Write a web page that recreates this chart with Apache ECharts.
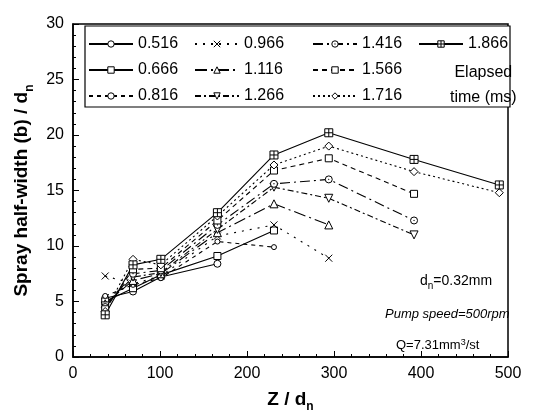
<!DOCTYPE html>
<html><head><meta charset="utf-8">
<script src="https://cdn.jsdelivr.net/npm/echarts@6/dist/echarts.min.js"></script>
<style>html,body{margin:0;padding:0;background:#fff}#c{width:542px;height:418px}</style>
</head><body><div id="c"></div>
<script>
// Z/dn positions of measurement stations
const zPos = [37, 69, 101, 166, 231, 294, 392, 490];
// Spray half-width (b)/dn for each elapsed time (ms)
const t0516 = [5.3, 5.9, 7.2, 8.4];
const t0666 = [5.0, 6.2, 7.4, 9.1, 11.4];
const t0816 = [5.5, 6.5, 7.1, 10.4, 9.9];
const t0966 = [7.3, 6.6, 7.3, 10.9, 11.9, 8.9];
const t1116 = [4.8, 6.9, 7.5, 11.2, 13.8, 11.9];
const t1266 = [4.6, 7.2, 7.6, 11.5, 15.3, 14.3, 11.0];
const t1416 = [4.5, 7.5, 7.8, 11.9, 15.6, 16.0, 12.3];
const t1566 = [4.3, 7.9, 8.0, 12.3, 16.8, 17.9, 14.7];
const t1716 = [4.1, 8.8, 8.3, 12.7, 17.3, 19.0, 16.7, 14.8];
const t1866 = [3.8, 8.3, 8.8, 13.0, 18.2, 20.2, 17.8, 15.5];
const xTicks = [0, 100, 200, 300, 400, 500];
const yTicks = [0, 5, 10, 15, 20, 25, 30];

const FONT = 'Liberation Sans, Arial, sans-serif';
const sqPlus = 'path://M0,0H10V10H0Z M5,0V10 M0,5H10';
const xMark = 'path://M0,0L10,10M10,0L0,10';
const circDot = 'path://M0,5A5,5,0,1,1,10,5A5,5,0,1,1,0,5Z M4.6,5A0.4,0.4,0,1,1,5.4,5A0.4,0.4,0,1,1,4.6,5Z';

const defs = [
  {name:'0.516', v:t0516, sym:'circle', size:7, dash:'solid'},
  {name:'0.666', v:t0666, sym:'rect', size:7, dash:'solid'},
  {name:'0.816', v:t0816, sym:'circle', size:5, dash:[4,4]},
  {name:'0.966', v:t0966, sym:xMark, size:7, dash:[2,6]},
  {name:'1.116', v:t1116, sym:'triangle', size:8, dash:[12,4,2,4]},
  {name:'1.266', v:t1266, sym:'triangle', size:8, dash:[6,3,2,3], rot:180},
  {name:'1.416', v:t1416, sym:circDot, size:7, dash:[10,4,2,4]},
  {name:'1.566', v:t1566, sym:'rect', size:7, dash:[5,4]},
  {name:'1.716', v:t1716, sym:'diamond', size:8, dash:[2,3]},
  {name:'1.866', v:t1866, sym:sqPlus, size:8, dash:'solid'}
];

const series = defs.map(d => ({
  name: d.name, type: 'line',
  data: d.v.map((y, i) => [zPos[i], y]),
  symbol: d.sym, symbolSize: d.size, symbolRotate: d.rot || 0,
  showAllSymbol: true,
  lineStyle: {color: '#000', width: 1.1, type: d.dash},
  itemStyle: {color: '#fff', borderColor: '#000', borderWidth: 1},
  emphasis: {disabled: true},
  animation: false, z: 3
}));

function legendCol(names, left) {
  return {
    show: true, orient: 'vertical', left: left, top: 35,
    itemWidth: 44, itemHeight: 8, itemGap: 8, padding: 0,
    data: names, selectedMode: false,
    textStyle: {fontFamily: FONT, fontSize: 16, color: '#000', lineHeight: 18},
    itemStyle: {color: '#fff', borderColor: '#000', borderWidth: 1}
  };
}

const chart = echarts.init(document.getElementById('c'), null, {renderer: 'canvas'});
chart.setOption({
  backgroundColor: '#fff',
  animation: false,
  grid: {left: 73, right: 34, top: 24, bottom: 56, show: true, borderColor: '#000', borderWidth: 1.5},
  legend: [
    legendCol(['0.516','0.666','0.816'], 88),
    legendCol(['0.966','1.116','1.266'], 194),
    legendCol(['1.416','1.566','1.716'], 312),
    legendCol(['1.866'], 418)
  ],
  xAxis: {
    type: 'value', min: xTicks[0], max: xTicks[xTicks.length-1], interval: 100,
    name: '{b|Z / d}{s|n}', nameLocation: 'middle', nameGap: 30,
    nameTextStyle: {rich: {
      b: {fontFamily: FONT, fontWeight: 'bold', fontSize: 19, color: '#000', lineHeight: 22, verticalAlign: 'bottom'},
      s: {fontFamily: FONT, fontWeight: 'bold', fontSize: 12, color: '#000', lineHeight: 22, verticalAlign: 'bottom', padding: [0,0,-4,0]}
    }},
    axisLine: {show: true, lineStyle: {color: '#000', width: 1.5}},
    axisTick: {show: true, inside: true, length: 6, lineStyle: {color: '#000'}},
    minorTick: {show: true, splitNumber: 5, length: 3, lineStyle: {color: '#000'}},
    splitLine: {show: false},
    axisLabel: {fontFamily: FONT, fontSize: 16, color: '#000', margin: 9}
  },
  yAxis: {
    type: 'value', min: yTicks[0], max: yTicks[yTicks.length-1], interval: 5,
    name: '{b|Spray half-width (b) / d}{s|n}', nameLocation: 'middle', nameGap: 40, nameRotate: 90,
    nameTextStyle: {rich: {
      b: {fontFamily: FONT, fontWeight: 'bold', fontSize: 19, color: '#000', lineHeight: 22, verticalAlign: 'bottom'},
      s: {fontFamily: FONT, fontWeight: 'bold', fontSize: 12, color: '#000', lineHeight: 22, verticalAlign: 'bottom', padding: [0,0,-4,0]}
    }},
    axisLine: {show: true, lineStyle: {color: '#000', width: 1.5}},
    axisTick: {show: true, inside: true, length: 6, lineStyle: {color: '#000'}},
    minorTick: {show: true, splitNumber: 5, length: 3, lineStyle: {color: '#000'}},
    splitLine: {show: false},
    axisLabel: {fontFamily: FONT, fontSize: 16, color: '#000', margin: 9}
  },
  graphic: [
    {type: 'rect', z: 1, shape: {x: 85, y: 26, width: 425, height: 81},
     style: {fill: '#fff', stroke: '#000', lineWidth: 1.2}},
    {type: 'text', z: 5, left: 450, top: 60, style: {text: 'Elapsed\ntime (ms)', font: '16px ' + FONT, fill: '#000', textAlign: 'center', lineHeight: 25}},
    {type: 'text', z: 5, left: 420, top: 274, style: {
      text: '{a|d}{s|n}{a|=0.32mm}', fill: '#000',
      rich: {a: {fontFamily: FONT, fontSize: 14, fill: '#000', lineHeight: 18, verticalAlign: 'bottom'},
             s: {fontFamily: FONT, fontSize: 10, fill: '#000', lineHeight: 18, verticalAlign: 'bottom', padding: [0,0,-3,0]}}}},
    {type: 'text', z: 5, left: 385, top: 308, style: {text: 'Pump speed=500rpm', font: 'italic 13px ' + FONT, fill: '#000'}},
    {type: 'text', z: 5, left: 396, top: 338, style: {
      text: '{a|Q=7.31mm}{u|3}{a|/st}', fill: '#000',
      rich: {a: {fontFamily: FONT, fontSize: 13, fill: '#000', lineHeight: 18, verticalAlign: 'bottom'},
             u: {fontFamily: FONT, fontSize: 9, fill: '#000', lineHeight: 18, verticalAlign: 'bottom', padding: [0,0,5,0]}}}}
  ],
  series: series
});
</script></body></html>
